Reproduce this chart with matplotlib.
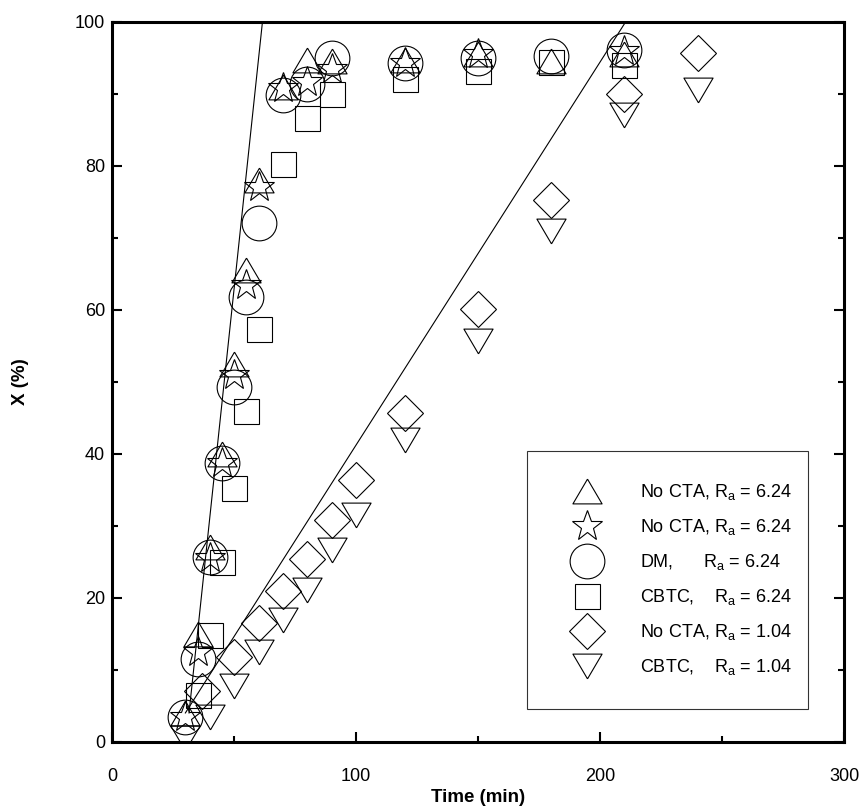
import matplotlib
matplotlib.use("Agg")
import matplotlib.pyplot as plt
from matplotlib.lines import Line2D
from matplotlib.ticker import MultipleLocator

plt.rcParams["font.family"] = ["Liberation Sans", "DejaVu Sans"]
plt.rcParams["mathtext.default"] = "regular"

# conversion X (%) vs time (min)
t_tri = [30, 35, 40, 45, 50, 55, 60, 70, 80, 90, 120, 150, 180, 210]
x_tri = [4, 15, 27, 40, 52.5, 65.5, 78, 91, 94.7, 94.5, 94.7, 95.5, 94.6, 95.5]

t_star = [30, 35, 40, 45, 50, 55, 60, 70, 80, 90, 120, 150, 210]
x_star = [3.5, 12.5, 25.5, 38.7, 51, 63.5, 77, 90.8, 91.7, 93.5, 94.3, 95.5, 96]

t_circ = [30, 35, 40, 45, 50, 55, 60, 70, 80, 90, 120, 150, 180, 210]
x_circ = [3.5, 11.5, 25.7, 38.7, 49.3, 61.8, 72.1, 89.8, 91.4, 95, 94.3, 95, 95.3, 96.1]

t_sq = [35, 40, 45, 50, 55, 60, 70, 80, 90, 120, 150, 180, 210]
x_sq = [6.5, 14.8, 25, 35.2, 45.9, 57.4, 80.3, 86.6, 90, 92, 93.2, 94.4, 94]

t_dia = [37, 50, 60, 70, 80, 90, 100, 120, 150, 180, 210, 240]
x_dia = [7, 11.8, 16.5, 20.9, 25.4, 30.8, 36.3, 45.6, 60.1, 75.3, 90, 95.7]

t_inv = [30, 40, 50, 60, 70, 80, 90, 100, 120, 150, 180, 210, 240]
x_inv = [0.5, 3.5, 7.7, 12.5, 16.9, 21.1, 26.7, 31.5, 41.9, 55.6, 71, 87, 90.5]

# straight-line fits
fit_fast_t = [31.5, 61.6]
fit_fast_x = [4, 100]
fit_slow_t = [30, 210.5]
fit_slow_x = [4, 100]

labels = [
    "No CTA, R$_a$ = 6.24",
    "No CTA, R$_a$ = 6.24",
    "DM,      R$_a$ = 6.24",
    "CBTC,    R$_a$ = 6.24",
    "No CTA, R$_a$ = 1.04",
    "CBTC,    R$_a$ = 1.04",
]

# triangles drawn a little flatter than the stock markers
tri_up = [(0, 0.85), (-1, -0.85), (1, -0.85), (0, 0.85)]
tri_dn = [(0, -0.85), (-1, 0.85), (1, 0.85), (0, -0.85)]

series = [
    (t_tri, x_tri, tri_up, 21),
    (t_star, x_star, "*", 23),
    (t_circ, x_circ, "o", 25),
    (t_sq, x_sq, "s", 18),
    (t_dia, x_dia, "D", 18),
    (t_inv, x_inv, tri_dn, 21),
]

fig = plt.figure(figsize=(8.63, 8.08), dpi=100)
ax = fig.add_axes([0.130, 0.082, 0.848, 0.891])

for t, x, m, ms in series:
    ax.plot(t, x, ls="none", marker=m, ms=ms, mfc="none", mec="black", mew=0.8)

ax.plot(fit_fast_t, fit_fast_x, color="black", lw=0.8)
ax.plot(fit_slow_t, fit_slow_x, color="black", lw=0.8)

ax.set_xlim(0, 300)
ax.set_ylim(0, 100)
ax.xaxis.set_major_locator(MultipleLocator(100))
ax.xaxis.set_minor_locator(MultipleLocator(50))
ax.yaxis.set_major_locator(MultipleLocator(20))
ax.yaxis.set_minor_locator(MultipleLocator(10))
ax.tick_params(which="both", direction="in", right=True, width=1.5, labelsize=13)
ax.tick_params(which="major", length=7)
ax.tick_params(which="minor", length=4.5)
ax.tick_params(axis="x", pad=19)
ax.tick_params(axis="y", pad=5)
for s in ax.spines.values():
    s.set_linewidth(2.2)

ax.set_xlabel("Time (min)", fontsize=13.5, fontweight="bold", labelpad=3)
ax.set_ylabel("X (%)", fontsize=13.5, fontweight="bold", labelpad=33)

handles = [Line2D([], [], ls="none", marker=m, ms=ms, mfc="none", mec="black", mew=0.8)
           for _, _, m, ms in series]
leg = ax.legend(handles, labels, loc="upper left", bbox_to_anchor=(0.567, 0.04, 0.384, 0.364),
                mode="expand", fontsize=13, frameon=True, fancybox=False, borderpad=1.75,
                handlelength=3.15, handletextpad=1.36, labelspacing=0.83,
                borderaxespad=0)
leg.get_frame().set_edgecolor("black")
leg.get_frame().set_linewidth(0.8)

fig.savefig("out.png", dpi=100)
